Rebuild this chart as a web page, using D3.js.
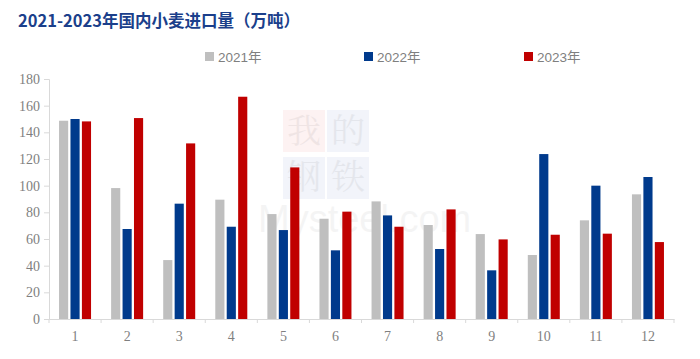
<!DOCTYPE html>
<html><head><meta charset="utf-8">
<script src="https://cdn.jsdelivr.net/npm/d3@7"></script>
<style>body{margin:0;background:#fff;}svg{display:block;}</style>
</head><body>
<svg id="c" width="700" height="359"></svg>
<script>
const months = ["1","2","3","4","5","6","7","8","9","10","11","12"];
const seriesNames = ["2021年","2022年","2023年"];
const seriesColors = ["#bfbfbf","#003a8c","#c00000"];
const v2021 = [148.7, 98.2, 44.2, 89.5, 78.7, 75.2, 88.2, 70.5, 63.7, 48.0, 74.0, 93.5];
const v2022 = [150.0, 67.5, 86.5, 69.2, 66.7, 51.5, 77.7, 52.5, 36.5, 123.7, 100.0, 106.5];
const v2023 = [148.2, 150.7, 131.7, 166.7, 113.7, 80.5, 69.2, 82.2, 59.7, 63.2, 64.0, 57.7];
const yTicks = [0,20,40,60,80,100,120,140,160,180];
const title = "2021-2023年国内小麦进口量（万吨）";

const series = [v2021, v2022, v2023];
const svg = d3.select("#c");
const L = 49, R = 674, T = 79, B = 319;

// watermark
const wm = svg.append("g").attr("opacity", 0.06);
wm.append("rect").attr("x",283).attr("y",110).attr("width",42).attr("height",42).attr("fill","#e03030");
wm.append("rect").attr("x",327).attr("y",110).attr("width",42).attr("height",42).attr("fill","#3050b0");
wm.append("rect").attr("x",283).attr("y",157).attr("width",42).attr("height",42).attr("fill","#3050b0");
wm.append("rect").attr("x",327).attr("y",157).attr("width",42).attr("height",42).attr("fill","#3050b0");
const wmt = svg.append("g").attr("fill","#000").attr("opacity",0.05).attr("font-family","'Noto Serif CJK SC','Noto Sans CJK SC',serif").attr("font-size",34).attr("text-anchor","middle");
[["我",304,143],["的",348,143],["钢",304,189],["铁",348,189]].forEach(d=>wmt.append("text").attr("x",d[1]).attr("y",d[2]).text(d[0]));
svg.append("text").attr("x",258).attr("y",232).attr("font-family","Liberation Sans, Arial, sans-serif").attr("font-size",38).attr("fill","#000").attr("opacity",0.04).text("Mysteel.com");

const x = d3.scaleBand().domain(months).range([L, R]).paddingInner(0).paddingOuter(0);
const xs = d3.scaleBand().domain([0,1,2]).range([0, 32]).paddingInner(0.2).paddingOuter(0);
const y = d3.scaleLinear().domain([0,180]).range([B, T]);
const off = (x.bandwidth() - 32) / 2;

// y axis
const ya = svg.append("g").attr("transform",`translate(${L},0)`)
  .call(d3.axisLeft(y).tickValues(yTicks).tickSize(5).tickPadding(4));
ya.select(".domain").attr("stroke","#d9d9d9");
ya.selectAll(".tick line").attr("stroke","#d9d9d9");
ya.selectAll(".tick text").attr("fill","#7f7f7f").attr("font-family","'Liberation Serif', serif").attr("font-size",14);

// bars
series.forEach((vals, si) => {
  svg.append("g").selectAll("rect").data(vals).join("rect")
    .attr("x", (d,i) => x(months[i]) + off + xs(si))
    .attr("width", xs.bandwidth())
    .attr("y", d => y(d))
    .attr("height", d => B - y(d))
    .attr("fill", seriesColors[si]);
});

// x axis
const xa = svg.append("g").attr("transform",`translate(0,${B})`)
  .call(d3.axisBottom(x).tickSize(0).tickPadding(12));
xa.select(".domain").attr("stroke","#d9d9d9");
xa.selectAll(".tick text").attr("fill","#7f7f7f").attr("font-family","'Liberation Serif', serif").attr("font-size",14);
const bounds = months.map(m => x(m)).concat([R]);
svg.append("g").selectAll("line").data(bounds).join("line")
  .attr("x1", d=>d).attr("x2", d=>d).attr("y1", B).attr("y2", B+4).attr("stroke","#d9d9d9");

// title
svg.append("text").attr("x",18).attr("y",27).attr("fill","#1b3f8b")
  .attr("font-family","'Noto Sans CJK SC', sans-serif").attr("font-weight","bold").attr("font-size",16.5)
  .text(title);

// legend
const legX = [205, 364, 524];
const lg = svg.append("g");
seriesNames.forEach((n, i) => {
  lg.append("rect").attr("x", legX[i]).attr("y", 52).attr("width", 9).attr("height", 9).attr("fill", seriesColors[i]);
  lg.append("text").attr("x", legX[i] + 13).attr("y", 61.5).attr("fill","#7f7f7f")
    .attr("font-family","'Liberation Sans', Arial, 'Noto Sans CJK SC', sans-serif").attr("font-size",13.5).text(n);
});
</script>
</body></html>
